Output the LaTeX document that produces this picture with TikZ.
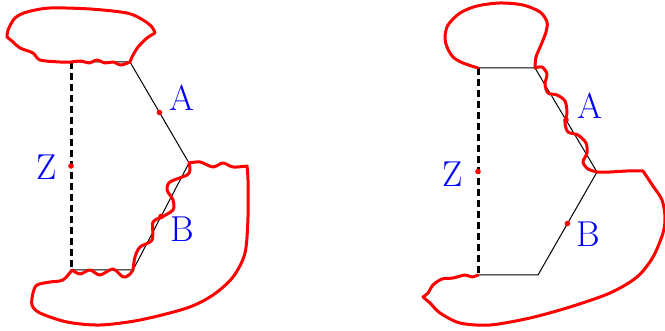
\documentclass[tikz,border=0pt]{standalone}
\usepackage{fontspec}
\usetikzlibrary{calc}
\begin{document}
\begin{tikzpicture}[x=0.5pt,y=-0.5pt,
  dot/.style={circle, fill=red, inner sep=0pt, minimum size=2.8pt},
  lbl/.style={text=blue, font=\fontsize{18}{20}\selectfont, inner sep=0pt},
  side/.style={line width=0.5pt},
  wall/.style={line width=1.5pt, dash pattern=on 3.5pt off 2pt},
  blob/.style={red, line width=1.5pt, line join=round, line cap=round}]
\useasboundingbox (0,0) rectangle (665,331);
% left figure
\coordinate (lTL) at (71,62);
\coordinate (lTR) at (130,62);
\coordinate (lR) at (189,163);
\coordinate (lBR) at (133,270);
\coordinate (lBL) at (71,270);
\draw[side] (lTL) -- (lTR) -- (lR) -- (lBR) -- (lBL);
\draw[wall] (lTL) -- (lBL);
\draw[blob] (lTR) -- plot[smooth] coordinates {(lTR) (121,65) (113,62) (105,63) (97,60) (89,63) (81,61) (lTL)}
  -- plot[smooth] coordinates {(lTL) (60,62) (40,60) (33,53) (20,48) (13,42) (7,37)}
  -- plot[smooth] coordinates {(7,37) (8,30) (15,18) (27,12) (50,8) (90,9) (127,13) (143,20) (152,27) (155,33)}
  -- plot[smooth] coordinates {(155,33) (147,38) (138,47) (132,57) (lTR)};
\draw[blob] plot[smooth] coordinates {(lR) (200,162) (213,167) (223,163) (233,167) (247,166)}
  -- plot[smooth] coordinates {(247,166) (248,180) (248,217) (245,253) (233,277) (213,295) (187,308) (140,320) (100,325) (67,322) (40,313) (32,305) (33,293) (37,285) (50,282) (63,280) (72,270)}
  -- plot[smooth] coordinates {(72,270) (80,274) (90,270) (100,275) (113,269) (123,277) (129,275) (lBR)}
  -- plot[smooth] coordinates {(lBR) (135,257) (140,247) (152,240) (153,222) (160,218) (173,210) (173,200) (167,190) (170,182) (187,175) (190,170) (lR)};
\node[dot] (lA) at ($(lTR)!0.5!(lR)$) {};
\node[dot] (lB) at ($(lR)!0.5!(lBR)$) {};
\node[dot] (lZ) at ($(lTL)!0.5!(lBL)$) {};
\node[lbl] (lAt) at (182,98) {A};
\node[lbl] (lBt) at (182,229) {B};
\node[lbl] (lZt) at (47,167) {Z};
% right figure
\coordinate (rTL) at (478,68);
\coordinate (rTR) at (535,68);
\coordinate (rR) at (597,172);
\coordinate (rBR) at (538,275);
\coordinate (rBL) at (478,275);
\draw[side] (rTL) -- (rTR) -- (rR) -- (rBR) -- (rBL);
\draw[wall] (rTL) -- (rBL);
\draw[blob] plot[smooth] coordinates {(rTL) (463,63) (453,57) (447,47) (445,37) (448,25) (460,13) (477,6) (500,3) (523,5) (540,12) (547,22) (546,32) (541,45) (536,57) (rTR)}
  -- plot[smooth] coordinates {(rTR) (542,67) (547,74) (545,84) (548,93) (557,95) (565,101) (567,113) (565,123) (568,132) (578,135) (586,143) (587,153) (583,162) (588,169) (rR)};
\draw[blob] plot[smooth] coordinates {(rR) (610,172) (627,171) (643,171)}
  -- plot[smooth] coordinates {(643,171) (653,186) (662,200) (665,217) (663,233) (653,257) (637,277) (610,293) (570,307) (530,318) (490,325) (460,323) (440,313) (430,303) (423,297)}
  -- plot[smooth] coordinates {(423,297) (428,293) (433,285) (442,279) (453,278) (465,275) (472,277) (rBL)};
\node[dot] (rA) at ($(rTR)!0.5!(rR)$) {};
\node[dot] (rB) at ($(rR)!0.5!(rBR)$) {};
\node[dot] (rZ) at ($(rTL)!0.5!(rBL)$) {};
\node[lbl] (rAt) at (590,106) {A};
\node[lbl] (rBt) at (588,234) {B};
\node[lbl] (rZt) at (453,174) {Z};
\end{tikzpicture}
\end{document}
